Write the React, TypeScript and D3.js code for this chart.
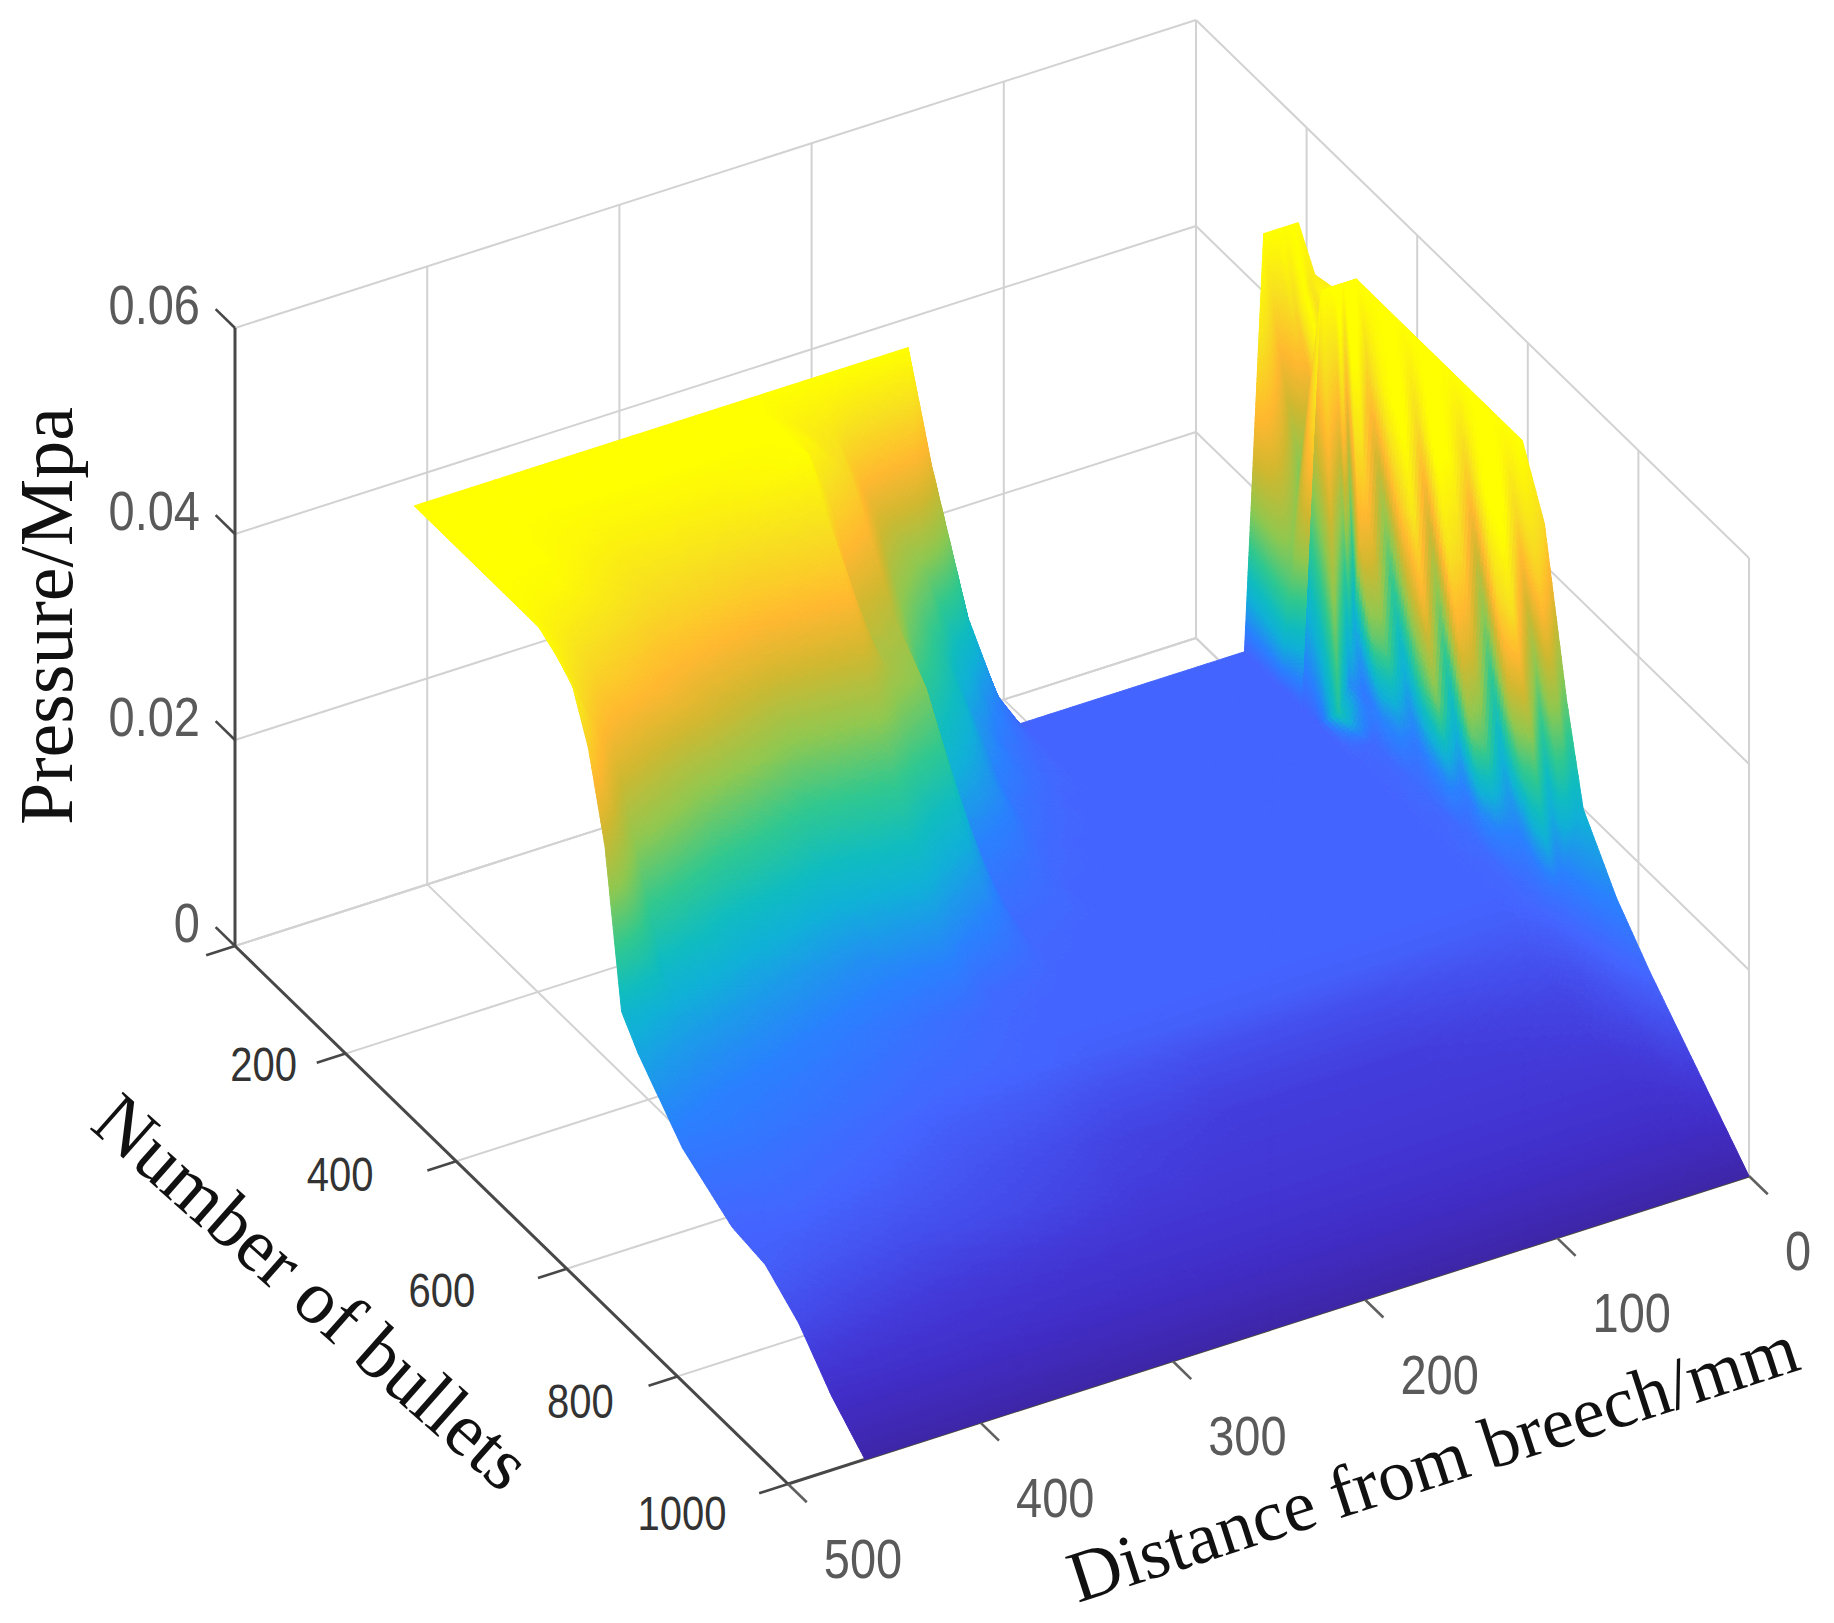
import React, { useEffect, useRef } from 'react';
import * as d3 from 'd3';

const width = 1834;
const height = 1623;

// axes
const distanceTicks = [0, 100, 200, 300, 400, 500];
const bulletTicks = [0, 200, 400, 600, 800, 1000];
const pressureTicks = [0, 0.02, 0.04, 0.06];
const pressureLabels = ['0', '0.02', '0.04', '0.06'];

// surface grid
const distances = [0, 2.4, 4.8, 7.2, 9.6, 12, 18, 28, 60, 100, 145, 157, 172, 191, 203, 230, 250, 270, 285, 330, 385, 430, 460];
const bullets = [185, 215, 250, 290, 320, 350, 380, 410, 440, 470, 500, 530, 560, 590, 630, 670, 700, 760, 820, 880, 940, 1000];
// pressure in 1e-3 MPa, one row per entry of bullets
const pressureRows = [
  [50, 50, 50, 50, 50, 50, 50, 10, 10, 10, 10, 13.6, 22, 38, 50, 50, 50, 50, 50, 50, 50, 50, 50],
  [46.5, 46, 45, 44, 43, 42, 40, 10, 10, 10, 10, 12, 16, 24, 30, 38, 46, 48, 50, 50, 50, 50, 50],
  [47, 45, 43, 41, 39, 38, 30, 10, 10, 10, 10, 11, 13, 18, 24, 33, 43, 48, 50, 50, 50, 50, 50],
  [50, 50, 50, 50, 50, 50, 50, 10, 10, 10, 10, 10.5, 12, 15, 20, 28, 38, 42, 50, 48, 48, 50, 50],
  [50, 42, 34, 26, 19, 13, 10.5, 10, 10, 10, 10, 10, 11, 13, 17, 24, 34, 37, 46, 45, 46, 50, 50],
  [50, 42, 34, 26, 19, 13, 10.5, 10, 10, 10, 10, 10, 10.5, 12, 15, 20, 32, 34, 43, 42, 44, 49, 50],
  [50, 42, 34, 26, 19, 13, 11, 10, 10, 10, 10, 10, 10, 11, 13, 16, 30, 33, 38, 37, 41, 46, 50],
  [50, 42, 34, 26, 19, 13, 10.5, 10, 10, 10, 10, 10, 10, 10.5, 11.5, 13.5, 26, 29, 33, 31, 38, 43, 50],
  [50, 42, 34, 26, 19, 13, 10.5, 10, 10, 10, 10, 10, 10, 10, 11, 12, 21, 24, 27, 26, 31, 39, 49],
  [50, 42, 34, 26, 19, 13, 11, 10, 10, 10, 10, 10, 10, 10, 10.5, 11, 17, 20, 23, 22, 26, 33, 47.7],
  [50, 42, 34, 26, 19, 13, 10.5, 10, 10, 10, 10, 10, 10, 10, 10, 10.5, 14, 16.5, 19, 18, 21, 27, 43],
  [50, 42, 34, 26, 19, 13, 10.5, 10, 10, 10, 10, 10, 10, 10, 10, 10.2, 12, 13.5, 15.5, 15.5, 18, 21, 35],
  [50, 42, 34, 26, 19, 13, 11, 10, 10, 10, 10, 10, 10, 10, 10, 10, 10.5, 11, 13, 14, 16, 18, 20.5],
  [50, 42, 34, 26, 19, 13, 10.5, 10, 10, 10, 10, 10, 10, 10, 10, 10, 10, 10.5, 11, 12.5, 14.5, 16, 18],
  [44, 38, 31, 25, 19, 14, 10.5, 10, 10, 10, 10, 10, 10, 10, 10, 10, 10, 10, 10.5, 11.5, 13, 14, 15.5],
  [29, 26, 22, 18, 15, 12.5, 10.5, 9.5, 9.5, 9.5, 9.5, 9.5, 9.5, 9.5, 9.5, 9.5, 9.5, 10, 10, 10.5, 12, 13, 13],
  [20, 18.5, 17, 15, 13, 11.5, 9.5, 8.5, 8, 7.5, 7.5, 7.5, 7.5, 7.5, 7.5, 8, 8, 8.5, 9, 9.5, 11, 12, 12],
  [14.5, 13.5, 12.5, 11, 10, 9, 7.5, 6.5, 6, 5.5, 5.5, 5.5, 5.5, 5.5, 5.5, 6, 6, 6.5, 7, 8, 9.5, 10.5, 10],
  [10.5, 10, 9, 8.5, 8, 7, 6.5, 5.5, 5, 5, 5, 5, 5, 5, 5, 5, 5.5, 5.5, 6, 7, 7.5, 8.5, 9.5],
  [7, 6.5, 6.5, 6, 5.5, 5, 4.5, 4.2, 4.2, 4.2, 4.2, 4.2, 4.2, 4.2, 4.2, 4.2, 4.2, 4.2, 4.2, 4.5, 5, 6, 7],
  [3.5, 3.5, 3.2, 3.2, 3, 3, 3, 2.8, 2.8, 2.8, 2.8, 2.8, 2.8, 2.8, 2.8, 2.8, 2.8, 2.8, 2.8, 2.8, 3, 3, 3],
  [0, 0, 0, 0, 0, 0, 0, 0, 0, 0, 0, 0, 0, 0, 0, 0, 0, 0, 0, 0, 0, 0, 0],
];

// colour streaks running down the right-hand ridge: shade along the sheared row index,
// and how much of it each of the first columns takes
const streakProfile = [-1, 0.6, 1, -0.8, 0.4, 1, -1, 0.8, 0.6, -0.9, 0.3, 1, -0.7, 0.9, 0.5, -1, 0.6, 1, -0.8, 0.5, 0.9, -1, 0.7, 1];
const streakBase = [0, 5, 6, 6, 5, 1, 0];
const streakAmount = [0, 5, 7, 7, 6, 1.5, 0];
const streakRowFade = [0, 0.4, 0.6, 0.4, 1, 1, 1, 1, 1, 1, 1, 1, 1, 0.9, 0.6, 0.3, 0];
const ridgeLift = 8;
// softens the seam between the two ridges, by row 3..6 and column 5..7
const seamRows = [0, 14, 6, 0];
const seamCols = [0, 1, 0];

const colorStops = [0, 2.5, 5, 10, 14, 19, 22, 26, 31, 36, 40, 45, 50];
const colorValues = ['#3e26a8', '#402cc4', '#4338d8', '#4464ff', '#2a80ff', '#10b0d8', '#10bcc0', '#30c890', '#90c850', '#d0b830', '#ffb830', '#f8e020', '#ffff00'];

// oblique projection of the box, the floor is a parallelogram
const xScaleX = d3.scaleLinear().domain([0, 500]).range([0, -961]);
const xScaleY = d3.scaleLinear().domain([0, 500]).range([0, 308]);
const nScaleX = d3.scaleLinear().domain([0, 1000]).range([0, 553]);
const nScaleY = d3.scaleLinear().domain([0, 1000]).range([0, 538]);
const zScale = d3.scaleLinear().domain([0, 0.06]).range([0, 618]);
const colorScale = d3.scaleLinear<string>().domain(colorStops).range(colorValues).clamp(true);

function project(x: number, n: number, z: number): [number, number] {
  return [1196 + xScaleX(x) + nScaleX(n), 638 + xScaleY(x) + nScaleY(n) - zScale(z)];
}

function lerpList(list: number[], pos: number) {
  if (pos < 0 || pos > list.length - 1) return 0;
  const k = Math.min(Math.floor(pos), list.length - 2);
  return list[k] + (list[k + 1] - list[k]) * (pos - k);
}

function streakAt(rowPos: number, colPos: number) {
  const fade = lerpList(streakRowFade, rowPos);
  const base = lerpList(streakBase, colPos);
  const amount = lerpList(streakAmount, colPos);
  const seam = lerpList(seamRows, rowPos - 3) * lerpList(seamCols, colPos - 5);
  return seam + fade * (base + amount * lerpList(streakProfile, rowPos - colPos + 6));
}

function drawSurface(group: any) {
  const runs: { fill: string; d: string }[] = [];
  const step = 5;
  for (let i = 0; i < bullets.length - 1; i++) {
    for (let j = 0; j < distances.length - 1; j++) {
      const [x0, x1] = [distances[j], distances[j + 1]];
      const [n0, n1] = [bullets[i], bullets[i + 1]];
      const z00 = pressureRows[i][j];
      const z01 = pressureRows[i][j + 1];
      const z10 = pressureRows[i + 1][j];
      const z11 = pressureRows[i + 1][j + 1];
      const at = (s: number, t: number) => {
        const z = (z00 * (1 - s) + z01 * s) * (1 - t) + (z10 * (1 - s) + z11 * s) * t;
        let c = z + streakAt(i + t, j + s);
        if (j === 6 && i < 3) c += ridgeLift * 4 * s * (1 - s);
        return { z: c, p: project(x0 + (x1 - x0) * s, n0 + (n1 - n0) * t, z / 1000) };
      };
      const span = (a: any, b: any) => Math.hypot(a.p[0] - b.p[0], a.p[1] - b.p[1]);
      const nu = Math.max(1, Math.ceil(Math.max(span(at(0, 0), at(1, 0)), span(at(0, 1), at(1, 1))) / step));
      const nv = Math.max(1, Math.ceil(Math.max(span(at(0, 0), at(0, 1)), span(at(1, 0), at(1, 1))) / step));
      for (let b = 0; b < nv; b++) {
        for (let a = 0; a < nu; a++) {
          const c = [at(a / nu, b / nv), at((a + 1) / nu, b / nv), at((a + 1) / nu, (b + 1) / nv), at(a / nu, (b + 1) / nv)];
          const mean = d3.mean(c, (d) => d.z) as number;
          const fill = colorScale(Math.round(mean * 4) / 4);
          const d = 'M' + c.map((q) => q.p[0].toFixed(1) + ',' + q.p[1].toFixed(1)).join('L') + 'Z';
          const last = runs[runs.length - 1];
          if (last && last.fill === fill) last.d += d;
          else runs.push({ fill, d });
        }
      }
    }
  }
  group
    .selectAll('path')
    .data(runs)
    .join('path')
    .attr('d', (d: any) => d.d)
    .attr('fill', (d: any) => d.fill)
    .attr('stroke', (d: any) => d.fill)
    .attr('stroke-width', 1)
    .attr('stroke-linejoin', 'round');
}

function line(a: [number, number], b: [number, number], key: string, color: string, w: number) {
  return <line key={key} x1={a[0]} y1={a[1]} x2={b[0]} y2={b[1]} stroke={color} strokeWidth={w} />;
}

function TickLabel({ x, y, anchor, size, color, text }: any) {
  return (
    <text
      transform={`translate(${x},${y}) scale(1,1.2)`}
      textAnchor={anchor}
      dy="0.36em"
      fontFamily="'Liberation Sans', Arial, sans-serif"
      fontSize={size}
      fill={color}
    >
      {text}
    </text>
  );
}

export default function App() {
  const surfaceRef = useRef<SVGGElement>(null);

  useEffect(() => {
    drawSurface(d3.select(surfaceRef.current));
  }, []);

  const gridColor = '#d2d2d2';
  const axisColor = '#484848';
  const grid: any[] = [];
  // wall behind at n = 0, wall on the right at x = 0, and the floor
  distanceTicks.forEach((x) => {
    grid.push(line(project(x, 0, 0), project(x, 0, 0.06), `wx${x}`, gridColor, 2));
    grid.push(line(project(x, 0, 0), project(x, 1000, 0), `fx${x}`, gridColor, 2));
  });
  bulletTicks.forEach((n) => {
    grid.push(line(project(0, n, 0), project(0, n, 0.06), `wn${n}`, gridColor, 2));
    grid.push(line(project(0, n, 0), project(500, n, 0), `fn${n}`, gridColor, 2));
  });
  pressureTicks.forEach((z) => {
    grid.push(line(project(500, 0, z), project(0, 0, z), `za${z}`, gridColor, 2));
    grid.push(line(project(0, 0, z), project(0, 1000, z), `zb${z}`, gridColor, 2));
  });

  return (
    <svg width={width} height={height} style={{ position: 'absolute', left: 0, top: 0, background: '#fff' }}>
      <g>{grid}</g>
      <g>
        {line(project(500, 0, 0), project(500, 0, 0.06), 'axz', axisColor, 3)}
        {line(project(500, 0, 0), project(500, 1000, 0), 'axn', axisColor, 3)}
        {line(project(500, 1000, 0), project(0, 1000, 0), 'axx', axisColor, 3)}
        {pressureTicks.map((z) =>
          line(project(500, 0, z), project(500, -35, z), `tz${z}`, axisColor, 2.6)
        )}
        {bulletTicks.map((n) =>
          line(project(500, n, 0), project(515, n, 0), `tn${n}`, axisColor, 2.6)
        )}
        {distanceTicks.map((x) =>
          line(project(x, 1000, 0), project(x, 1034, 0), `tx${x}`, '#606060', 2.6)
        )}
      </g>
      <g ref={surfaceRef} />
      {pressureTicks.map((z, i) => {
        const p = project(500, 0, z);
        return <TickLabel key={z} x={p[0] - 35} y={p[1] - 24} anchor="end" size={47} color="#5a5a5a" text={pressureLabels[i]} />;
      })}
      {bulletTicks.slice(1).map((n, i) => {
        const p = project(500, n, 0);
        const dx = [-82, -116, -125, -97, -106][i];
        const dy = [10, 13, 21, 24, 29][i];
        return <TickLabel key={n} x={p[0] + dx} y={p[1] + dy} anchor="middle" size={40} color="#333" text={String(n)} />;
      })}
      {distanceTicks.map((x) => {
        const p = project(x, 1000, 0);
        return <TickLabel key={x} x={p[0] + (x === 0 ? 49 : 75)} y={p[1] + 74} anchor="middle" size={47} color="#5a5a5a" text={String(x)} />;
      })}
      <g fontFamily="'Liberation Serif', 'Times New Roman', serif" fontSize={76} fill="#111" textAnchor="middle">
        <text transform="translate(47,616) rotate(-90)" dy="0.33em">Pressure/Mpa</text>
        <text transform="translate(312,1292) rotate(41.5)" dy="0.33em">Number of bullets</text>
        <text fontSize={73} transform="translate(1433,1463) rotate(-17.9)" dy="0.33em">Distance from breech/mm</text>
      </g>
    </svg>
  );
}
